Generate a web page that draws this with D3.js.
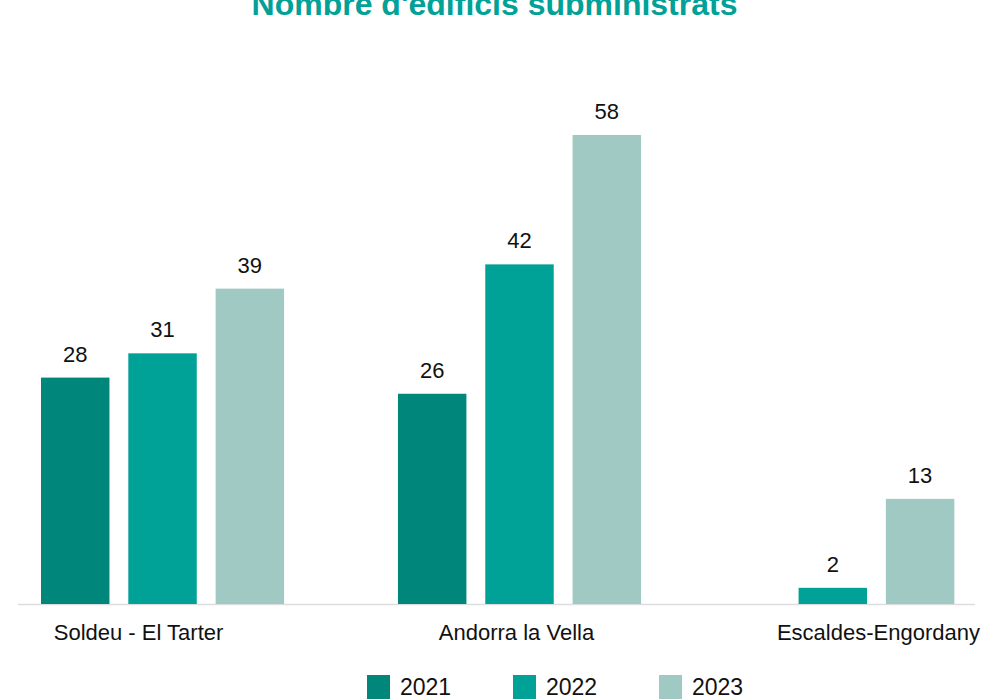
<!DOCTYPE html>
<html>
<head>
<meta charset="utf-8">
<script src="https://cdn.jsdelivr.net/npm/d3@7"></script>
<style>
  body { margin: 0; background: #fff; }
  svg { display: block; }
  text { font-family: "Liberation Sans", Arial, sans-serif; }
</style>
</head>
<body>
<div id="bar_chart"></div>
<script>
// data
var categories = ["Soldeu - El Tarter", "Andorra la Vella", "Escaldes-Engordany"];
var years = ["2021", "2022", "2023"];
var values2021 = [28, 26, null];
var values2022 = [31, 42, 2];
var values2023 = [39, 58, 13];
var colors = ["#00867b", "#00a197", "#a1c9c3"];

var series = [values2021, values2022, values2023];

var w = 989,
    h = 699;

var svg = d3.select("#bar_chart")
    .append("svg")
    .attr("width", w)
    .attr("height", h);

var base = 604;

var x0 = d3.scaleBand()
    .domain(categories)
    .range([41, 998])
    .paddingInner(0.319)
    .paddingOuter(0);

var y = d3.scaleLinear()
    .domain([0, 58])
    .range([base, 135]);

var colour = d3.scaleOrdinal().domain(years).range(colors);

// title (cut off at top in the original)
svg.append("text")
    .attr("x", w / 2)
    .attr("y", 15)
    .attr("text-anchor", "middle")
    .style("font-weight", "bold")
    .style("font-size", "32px")
    .attr("fill", "#00a197")
    .text("Nombre d'edificis subministrats");

// baseline
svg.append("line")
    .attr("x1", 18)
    .attr("x2", 975)
    .attr("y1", base + 0.5)
    .attr("y2", base + 0.5)
    .style("stroke", "#dddddd")
    .style("stroke-width", 1.5);

var step = x0.bandwidth() / (3 - 0.216);

categories.forEach(function(cat, ci) {
    var present = years.filter(function(yr, si) { return series[si][ci] != null; });
    var span = step * present.length - step * 0.216;
    var off = x0(cat) + (x0.bandwidth() - span) / 2;
    var x1 = d3.scaleBand()
        .domain(present)
        .range([off, off + span])
        .paddingInner(0.216)
        .paddingOuter(0);

    var g = svg.append("g");

    present.forEach(function(yr) {
        var v = series[years.indexOf(yr)][ci];
        g.append("rect")
            .attr("x", x1(yr))
            .attr("y", y(v))
            .attr("width", x1.bandwidth())
            .attr("height", base - y(v))
            .attr("fill", colour(yr));

        g.append("text")
            .attr("x", x1(yr) + x1.bandwidth() / 2)
            .attr("y", y(v) - 16)
            .attr("text-anchor", "middle")
            .style("font-size", "22px")
            .attr("fill", "#111")
            .text(v);
    });

    svg.append("text")
        .attr("x", x0(cat) + x0.bandwidth() / 2 + (ci == 0 ? -24 : ci == 1 ? -3 : 2))
        .attr("y", 640)
        .attr("text-anchor", "middle")
        .style("font-size", "22px")
        .attr("fill", "#111")
        .text(cat);
});

// legend
var legendX = d3.scalePoint().domain(years).range([367, 659]);
var legend = svg.append("g");
years.forEach(function(yr) {
    legend.append("rect")
        .attr("x", legendX(yr))
        .attr("y", 675)
        .attr("width", 23)
        .attr("height", 24)
        .attr("fill", colour(yr));
    legend.append("text")
        .attr("x", legendX(yr) + 33)
        .attr("y", 695)
        .style("font-size", "23px")
        .attr("fill", "#111")
        .text(yr);
});
</script>
</body>
</html>
